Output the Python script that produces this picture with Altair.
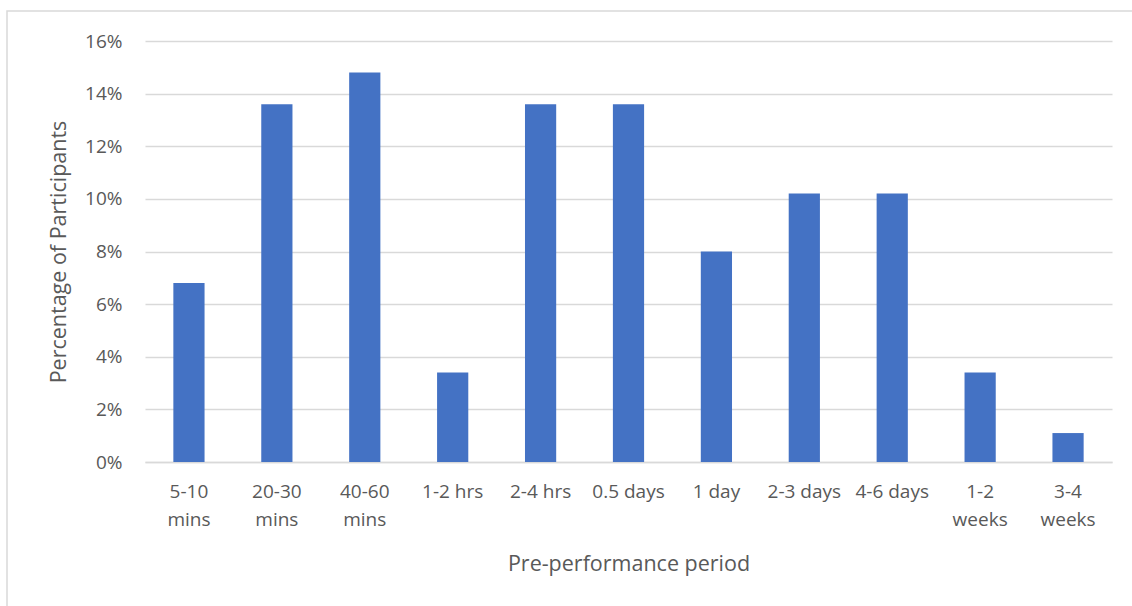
import altair as alt
import pandas as pd

# Share of participants by pre-performance period
periods = ["5-10 mins", "20-30 mins", "40-60 mins", "1-2 hrs", "2-4 hrs", "0.5 days",
           "1 day", "2-3 days", "4-6 days", "1-2 weeks", "3-4 weeks"]
shares = [0.068, 0.136, 0.148, 0.034, 0.136, 0.136, 0.080, 0.102, 0.102, 0.034, 0.011]
y_ticks = [0, 0.02, 0.04, 0.06, 0.08, 0.10, 0.12, 0.14, 0.16]

df = pd.DataFrame({"period": periods, "share": shares})

FONT = "Open Sans"
TEXT = "#595959"
GRID = "#d9d9d9"

# light outer frame around the whole chart
frame = alt.Chart(pd.DataFrame({"k": [0]})).mark_rect(
    fill=None, stroke="#d9d9d9", strokeWidth=1.5
).encode(
    x=alt.value(-138), x2=alt.value(1200),
    y=alt.value(-30), y2=alt.value(700),
)

bars = alt.Chart(df).mark_bar(color="#4472C4").encode(
    x=alt.X(
        "period:N", sort=periods,
        scale=alt.Scale(paddingInner=0.645, paddingOuter=0.3225),
        axis=alt.Axis(
            title="Pre-performance period",
            labelAngle=0,
            labelExpr="indexof(datum.value,'mins')>=0 || indexof(datum.value,'weeks')>=0 ? split(datum.value,' ') : datum.value",
            labelLineHeight=28,
            labelPadding=20,
            labelBaseline="top",
            ticks=False,
            domain=True,
            domainColor=GRID,
            domainWidth=1.5,
            titlePadding=24,
            grid=False,
        ),
    ),
    y=alt.Y(
        "share:Q",
        scale=alt.Scale(domain=[0, 0.16], nice=False),
        axis=alt.Axis(
            title="Percentage of Participants",
            format=".0%",
            values=y_ticks,
            ticks=False,
            domain=False,
            gridColor=GRID,
            gridWidth=1.5,
            labelPadding=23,
            titlePadding=14,
        ),
    ),
)

chart = alt.layer(frame, bars).properties(
    width=967, height=421,
    background="white",
    autosize=alt.AutoSizeParams(type="none"),
    padding={"left": 145, "top": 41, "right": 20, "bottom": 144},
).configure_view(
    stroke=None
).configure_axis(
    labelFont=FONT, titleFont=FONT,
    labelFontSize=19, titleFontSize=21.5,
    labelColor=TEXT, titleColor=TEXT,
    titleFontWeight="normal",
)

chart.save("out.html", embed_options={"renderer": "svg", "actions": False})
